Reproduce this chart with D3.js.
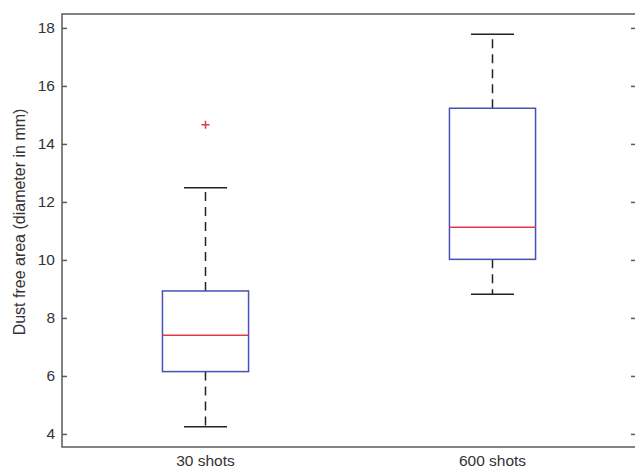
<!DOCTYPE html>
<html>
<head>
<meta charset="utf-8">
<script src="https://cdn.jsdelivr.net/npm/d3@7"></script>
<style>
  html, body { margin: 0; padding: 0; background: #fff; }
  svg { display: block; }
  text { font-family: "Liberation Sans", Arial, sans-serif; fill: #333; }
</style>
</head>
<body>
<script>
// Box plot summaries per group
const categories = ["30 shots", "600 shots"];
const q1 = [6.15, 10.02];
const median = [7.40, 11.13];
const q3 = [8.93, 15.23];
const whiskerLow = [4.25, 8.82];
const whiskerHigh = [12.49, 17.78];
const outliers = [[14.66], []];
const yTicks = [4, 6, 8, 10, 12, 14, 16, 18];

const W = 635, H = 469;
const plotLeft = 62, plotRight = 636, plotTop = 14, plotBottom = 447;

const svg = d3.select("body").append("svg").attr("width", W).attr("height", H);

const x = d3.scaleLinear().domain([0.5, 2.5]).range([plotLeft, plotRight]);
const y = d3.scaleLinear().domain([3.55, 18.48]).range([plotBottom, plotTop]);

const boxHalf = 0.15, capHalf = 0.075;
const axisColor = "#5a5a5a";

// Axes frame
svg.append("rect")
  .attr("x", plotLeft).attr("y", plotTop)
  .attr("width", plotRight - plotLeft).attr("height", plotBottom - plotTop)
  .attr("fill", "none").attr("stroke", axisColor).attr("stroke-width", 1.5);

// Left axis ticks & labels
const yAxis = d3.axisLeft(y).tickValues(yTicks).tickSizeInner(-5).tickSizeOuter(0).tickPadding(7);
const gy = svg.append("g").attr("transform", `translate(${plotLeft},0)`).call(yAxis);
gy.select(".domain").remove();
gy.selectAll(".tick line").attr("stroke", axisColor).attr("stroke-width", 1.5);
gy.selectAll(".tick text").attr("font-size", 15.5).attr("fill", "#333")
  .style("font-family", "'Liberation Sans', Arial, sans-serif");

// Right axis ticks
const yAxisR = d3.axisRight(y).tickValues(yTicks).tickSizeInner(-5).tickSizeOuter(0).tickFormat("");
const gyr = svg.append("g").attr("transform", `translate(${plotRight},0)`).call(yAxisR);
gyr.select(".domain").remove();
gyr.selectAll(".tick line").attr("stroke", axisColor).attr("stroke-width", 1.5);

// Category labels
svg.selectAll(".cat").data(categories).enter().append("text")
  .attr("x", (d, i) => x(i + 1)).attr("y", 466)
  .attr("text-anchor", "middle").attr("font-size", 15.5).text(d => d);

// Y axis title
svg.append("text")
  .attr("transform", "translate(25,222) rotate(-90)")
  .attr("text-anchor", "middle").attr("font-size", 16)
  .text("Dust free area (diameter in mm)");

const groups = svg.selectAll(".box").data(categories).enter().append("g");

// Whiskers
groups.append("line")
  .attr("x1", (d, i) => x(i + 1)).attr("x2", (d, i) => x(i + 1))
  .attr("y1", (d, i) => y(q3[i])).attr("y2", (d, i) => y(whiskerHigh[i]))
  .attr("stroke", "#222").attr("stroke-width", 1.5).attr("stroke-dasharray", "9,6");
groups.append("line")
  .attr("x1", (d, i) => x(i + 1)).attr("x2", (d, i) => x(i + 1))
  .attr("y1", (d, i) => y(q1[i])).attr("y2", (d, i) => y(whiskerLow[i]))
  .attr("stroke", "#222").attr("stroke-width", 1.5).attr("stroke-dasharray", "9,6");

// Whisker caps
[whiskerHigh, whiskerLow].forEach(arr => {
  groups.append("line")
    .attr("x1", (d, i) => x(i + 1 - capHalf)).attr("x2", (d, i) => x(i + 1 + capHalf))
    .attr("y1", (d, i) => y(arr[i])).attr("y2", (d, i) => y(arr[i]))
    .attr("stroke", "#222").attr("stroke-width", 1.5);
});

// Boxes
groups.append("rect")
  .attr("x", (d, i) => x(i + 1 - boxHalf))
  .attr("width", (d, i) => x(i + 1 + boxHalf) - x(i + 1 - boxHalf))
  .attr("y", (d, i) => y(q3[i]))
  .attr("height", (d, i) => y(q1[i]) - y(q3[i]))
  .attr("fill", "none").attr("stroke", "#4a4fb5").attr("stroke-width", 1.5);

// Medians
groups.append("line")
  .attr("x1", (d, i) => x(i + 1 - boxHalf)).attr("x2", (d, i) => x(i + 1 + boxHalf))
  .attr("y1", (d, i) => y(median[i])).attr("y2", (d, i) => y(median[i]))
  .attr("stroke", "#e03a4a").attr("stroke-width", 1.5);

// Outliers
outliers.forEach((vals, i) => {
  vals.forEach(v => {
    const cx = x(i + 1), cy = y(v);
    svg.append("path")
      .attr("d", `M${cx - 4},${cy}H${cx + 4}M${cx},${cy - 4}V${cy + 4}`)
      .attr("stroke", "#e03a4a").attr("stroke-width", 1.5);
  });
});
</script>
</body>
</html>
